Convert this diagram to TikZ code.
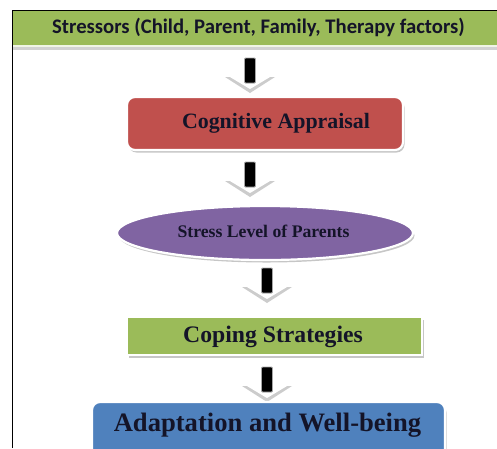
\documentclass[tikz,border=0pt]{standalone}
\usepackage{fontspec}
\setmainfont{Liberation Serif}
\newfontfamily\calib{Carlito}
\usetikzlibrary{shapes.geometric,shadows}
\definecolor{topgreen}{HTML}{9BBB59}
\definecolor{boxred}{HTML}{C0504D}
\definecolor{boxpurple}{HTML}{8064A2}
\definecolor{boxblue}{HTML}{4F81BD}
\definecolor{txtdark}{HTML}{141428}
\tikzset{
  boxshadow/.style={drop shadow={shadow xshift=1.5pt,shadow yshift=-2.5pt,opacity=0.45,fill=gray}},
  flowbox/.style={draw=white,line width=2.2pt,boxshadow},
  flowtext/.style={inner sep=0pt,text=txtdark,font=\bfseries},
}
\newcommand\flowarrow[3]{%
  \coordinate (#1) at (#2,#3);
  \fill[gray!40] ([xshift=-25pt,yshift=-19pt]#1) -- ([xshift=25pt,yshift=-19pt]#1) -- ([yshift=-35pt]#1) -- cycle;
  \fill[white] ([xshift=-20pt,yshift=-19pt]#1) -- ([xshift=20pt,yshift=-19pt]#1) -- ([yshift=-31pt]#1) -- cycle;
  \draw[gray!70,line width=0.8pt,fill=black,rounded corners=1pt] ([xshift=-5.5pt]#1) rectangle ([xshift=5.5pt,yshift=-25pt]#1);
}
\begin{document}
\begin{tikzpicture}[x=1pt,y=-1pt]
\useasboundingbox (0,0) rectangle (497,448);
% frame and top bar
\fill[topgreen] (13,11) rectangle (497,44.5);
\fill[gray!35] (13,45) rectangle (497,50);
\fill[white!85!topgreen] (13,44.5) rectangle (497,46.5);
\draw[black,line width=1pt] (12.5,448) -- (12.5,10.5) -- (497,10.5);
\node[inner sep=0pt,text=txtdark,font=\calib\bfseries\fontsize{20.7}{24}\selectfont] (stress) at (258.5,27) {Stressors (Child, Parent, Family, Therapy factors)};
% arrows
\flowarrow{a1}{250}{58}
\flowarrow{a2}{250}{162}
\flowarrow{a3}{267}{268}
\flowarrow{a4}{267}{367}
% boxes
\draw[flowbox,fill=boxred,rounded corners=8pt] (127,97) rectangle (403,150);
\node[flowtext,font=\bfseries\fontsize{21.9}{24}\selectfont] (cog) at (276,123) {Cognitive Appraisal};
\node[ellipse,flowbox,fill=boxpurple,minimum width=296pt,minimum height=54pt] (ell) at (265,233) {};
\node[flowtext,font=\bfseries\fontsize{17.7}{20}\selectfont] (lvl) at (263.5,231) {Stress Level of Parents};
\draw[flowbox,fill=topgreen] (127,317) rectangle (422,355);
\node[flowtext,font=\bfseries\fontsize{23.7}{26}\selectfont] (cop) at (273,337) {Coping Strategies};
\draw[flowbox,fill=boxblue,rounded corners=8pt] (92,402) rectangle (445,480);
\node[flowtext,font=\bfseries\fontsize{26.6}{30}\selectfont] (ada) at (267.5,425) {Adaptation and Well-being};
\end{tikzpicture}
\end{document}
